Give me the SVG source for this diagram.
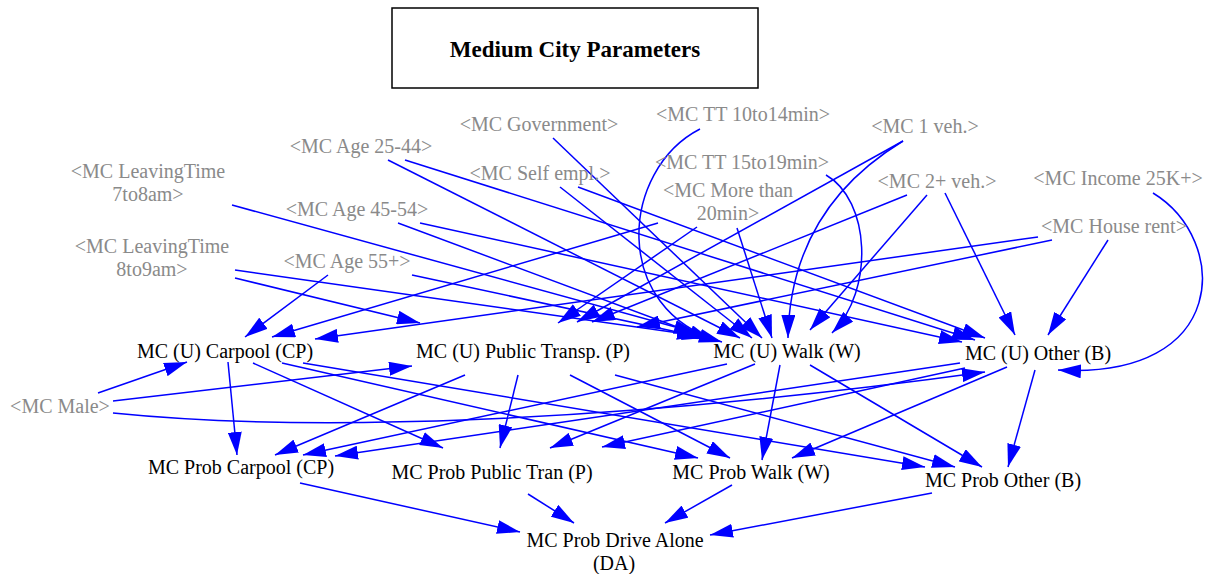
<svg xmlns="http://www.w3.org/2000/svg" width="1217" height="574" viewBox="0 0 1217 574">
<style>
.t{font-family:"Liberation Serif","Times New Roman",serif;font-size:20px;text-anchor:middle}
.g{fill:#8a8a8a}
.b{fill:#000}
.e{fill:none;stroke:#0000ff;stroke-width:1.5;marker-end:url(#ah)}
</style>
<defs>
<marker id="ah" markerUnits="userSpaceOnUse" markerWidth="23" markerHeight="14" refX="23" refY="7" orient="auto"><path d="M0,0 L23,7 L0,14 z" fill="#0000ff"/></marker>
</defs>
<rect width="1217" height="574" fill="#fff"/>
<g id="title">
<rect x="392" y="8" width="366" height="80" fill="none" stroke="#000" stroke-width="1.5"/>
<text x="575" y="57" class="t b" style="font-size:23px;font-weight:bold">Medium City Parameters</text>
</g>
<g id="connectors">
<path class="e" d="M328,275 L245,337"/>
<path class="e" d="M658,223 L272,337"/>
<path class="e" d="M1038,237 L315,339"/>
<path class="e" d="M98,393 L187,362"/>
<path class="e" d="M235,278 L420,323"/>
<path class="e" d="M113,401 L412,366"/>
<path class="e" d="M697,227 L558,323"/>
<path class="e" d="M903,141 L577,322"/>
<path class="e" d="M907,195 L592,322"/>
<path class="e" d="M1052,240 L637,327"/>
<path class="e" d="M232,205 L697,333"/>
<path class="e" d="M235,270 L700,336"/>
<path class="e" d="M412,275 L705,338"/>
<path class="e" d="M398,223 L712,340"/>
<path class="e" d="M388,160 L740,338"/>
<path class="e" d="M560,187 L752,338"/>
<path class="e" d="M553,138 L762,338"/>
<path class="e" d="M700,129 C620,170 610,310 722,342"/>
<path class="e" d="M737,228 L772,338"/>
<path class="e" d="M903,141 Q790,210 788,338"/>
<path class="e" d="M927,195 L810,330"/>
<path class="e" d="M826,175 C870,200 875,290 832,333"/>
<path class="e" d="M405,160 L975,340"/>
<path class="e" d="M578,187 L985,338"/>
<path class="e" d="M420,223 L962,342"/>
<path class="e" d="M945,193 L1015,335"/>
<path class="e" d="M1108,240 L1048,335"/>
<path class="e" d="M1153,193 C1230,240 1230,380 1058,370"/>
<path class="e" d="M113,413 C300,432 600,425 985,372"/>
<path class="e" d="M228,362 L237,455"/>
<path class="e" d="M465,375 L275,455"/>
<path class="e" d="M727,364 L303,455"/>
<path class="e" d="M960,363 L335,456"/>
<path class="e" d="M253,363 L443,448"/>
<path class="e" d="M518,375 L500,448"/>
<path class="e" d="M755,364 L550,448"/>
<path class="e" d="M965,368 L602,447"/>
<path class="e" d="M282,363 L698,458"/>
<path class="e" d="M570,375 L730,458"/>
<path class="e" d="M780,365 L762,460"/>
<path class="e" d="M1007,367 L792,458"/>
<path class="e" d="M303,363 L925,467"/>
<path class="e" d="M615,375 L955,467"/>
<path class="e" d="M810,365 L982,467"/>
<path class="e" d="M1035,370 L1008,467"/>
<path class="e" d="M300,483 L520,532"/>
<path class="e" d="M528,494 L574,523"/>
<path class="e" d="M732,485 L665,523"/>
<path class="e" d="M932,493 L710,535"/>
</g>
<g id="lt7"><text class="t g" x="148" y="178">&lt;MC LeavingTime</text><text class="t g" x="148" y="201">7to8am&gt;</text></g>
<g id="lt8"><text class="t g" x="152" y="253">&lt;MC LeavingTime</text><text class="t g" x="152" y="276">8to9am&gt;</text></g>
<g id="age2544"><text class="t g" x="361" y="153">&lt;MC Age 25-44&gt;</text></g>
<g id="age4554"><text class="t g" x="357" y="216">&lt;MC Age 45-54&gt;</text></g>
<g id="age55"><text class="t g" x="347" y="268">&lt;MC Age 55+&gt;</text></g>
<g id="gov"><text class="t g" x="539" y="131">&lt;MC Government&gt;</text></g>
<g id="self"><text class="t g" x="540" y="180">&lt;MC Self empl.&gt;</text></g>
<g id="tt10"><text class="t g" x="743" y="121">&lt;MC TT 10to14min&gt;</text></g>
<g id="tt15"><text class="t g" x="742" y="169">&lt;MC TT 15to19min&gt;</text></g>
<g id="tt20"><text class="t g" x="728" y="197">&lt;MC More than</text><text class="t g" x="728" y="220">20min&gt;</text></g>
<g id="veh1"><text class="t g" x="925" y="133">&lt;MC 1 veh.&gt;</text></g>
<g id="veh2"><text class="t g" x="937" y="188">&lt;MC 2+ veh.&gt;</text></g>
<g id="inc"><text class="t g" x="1118" y="185">&lt;MC Income 25K+&gt;</text></g>
<g id="rent"><text class="t g" x="1114" y="233">&lt;MC House rent&gt;</text></g>
<g id="male"><text class="t g" x="60" y="413">&lt;MC Male&gt;</text></g>
<g id="ucp"><text class="t b" x="225" y="358">MC (U) Carpool (CP)</text></g>
<g id="upt"><text class="t b" x="523" y="358">MC (U) Public Transp. (P)</text></g>
<g id="uw"><text class="t b" x="787" y="358">MC (U) Walk (W)</text></g>
<g id="ub"><text class="t b" x="1038" y="360">MC (U) Other (B)</text></g>
<g id="pcp"><text class="t b" x="241" y="474">MC Prob Carpool (CP)</text></g>
<g id="ppt"><text class="t b" x="492" y="479">MC Prob Public Tran (P)</text></g>
<g id="pw"><text class="t b" x="751" y="479">MC Prob Walk (W)</text></g>
<g id="pb"><text class="t b" x="1003" y="487">MC Prob Other (B)</text></g>
<g id="pda"><text class="t b" x="615" y="547">MC Prob Drive Alone</text><text class="t b" x="614" y="570">(DA)</text></g>
</svg>
